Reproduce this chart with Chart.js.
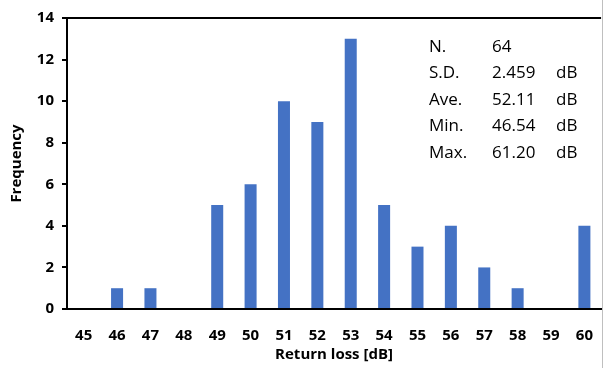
<!DOCTYPE html>
<html>
<head>
<meta charset="utf-8">
<script src="https://cdn.jsdelivr.net/npm/chart.js@4/dist/chart.umd.min.js"></script>
<style>
  body { margin: 0; background: #fff; }
  #wrap { width: 603px; height: 368px; position: relative; }
</style>
</head>
<body>
<div id="wrap"><canvas id="histChart"></canvas></div>
<script>
// histogram bins (dB) and counts
const bins = ['45', '46', '47', '48', '49', '50', '51', '52', '53', '54', '55', '56', '57', '58', '59', '60'];
const counts = [0, 1, 1, 0, 5, 6, 10, 9, 13, 5, 3, 4, 2, 1, 0, 4];

// summary box text
const statNames = ['N.', 'S.D.', 'Ave.', 'Min.', 'Max.'];
const statValues = ['64', '2.459', '52.11', '46.54', '61.20'];
const statUnits = ['', 'dB', 'dB', 'dB', 'dB'];

const fontFamily = "'Open Sans', 'Liberation Sans', sans-serif";

// draws the top frame line and the stats text
const extrasPlugin = {
  id: 'extras',
  afterDraw(chart) {
    const ctx = chart.ctx;
    const area = chart.chartArea;
    ctx.save();
    ctx.strokeStyle = '#000';
    ctx.lineWidth = 2;
    ctx.beginPath();
    ctx.moveTo(area.left, area.top);
    ctx.lineTo(area.right, area.top);
    ctx.stroke();

    ctx.strokeStyle = '#bfbfbf';
    ctx.lineWidth = 1;
    ctx.beginPath();
    ctx.moveTo(602.5, 0);
    ctx.lineTo(602.5, 368);
    ctx.stroke();

    ctx.fillStyle = '#000';
    ctx.font = '17px ' + fontFamily;
    ctx.textBaseline = 'middle';
    for (let i = 0; i < statNames.length; i++) {
      const y = 47 + i * 26.5;
      ctx.fillText(statNames[i], 429, y);
      ctx.fillText(statValues[i], 492, y);
      ctx.fillText(statUnits[i], 556, y);
    }
    ctx.restore();
  }
};

const ctx = document.getElementById('histChart').getContext('2d');
const myChart = new Chart(ctx, {
  type: 'bar',
  data: {
    labels: bins,
    datasets: [{
      label: 'Frequency',
      data: counts,
      backgroundColor: '#4472C4',
      barPercentage: 0.36,
      categoryPercentage: 1.0
    }]
  },
  options: {
    responsive: true,
    maintainAspectRatio: false,
    animation: false,
    layout: { padding: { top: 18, right: 1, left: 0, bottom: 0 } },
    plugins: {
      legend: { display: false },
      tooltip: { enabled: false }
    },
    scales: {
      x: {
        grid: { display: false },
        border: { display: true, color: '#000', width: 2 },
        ticks: {
          color: '#000',
          padding: 10,
          font: { family: fontFamily, size: 15, weight: 'bold' }
        },
        title: {
          display: true,
          text: 'Return loss [dB]',
          color: '#000',
          padding: { top: 4, bottom: 4 },
          font: { family: fontFamily, size: 15, weight: 'bold' }
        },
        afterFit(scale) { scale.height = 59; }
      },
      y: {
        min: 0,
        max: 14,
        ticks: {
          stepSize: 2,
          color: '#000',
          padding: 8,
          font: { family: fontFamily, size: 15, weight: 'bold' }
        },
        grid: {
          drawOnChartArea: false,
          drawTicks: true,
          tickLength: 5,
          color: '#000',
          lineWidth: 2
        },
        border: { display: true, color: '#000', width: 2 },
        title: {
          display: true,
          text: 'Frequency',
          color: '#000',
          padding: { top: 8, bottom: 4 },
          font: { family: fontFamily, size: 15, weight: 'bold' }
        },
        afterFit(scale) { scale.width = 67; }
      }
    }
  },
  plugins: [extrasPlugin]
});
</script>
</body>
</html>
